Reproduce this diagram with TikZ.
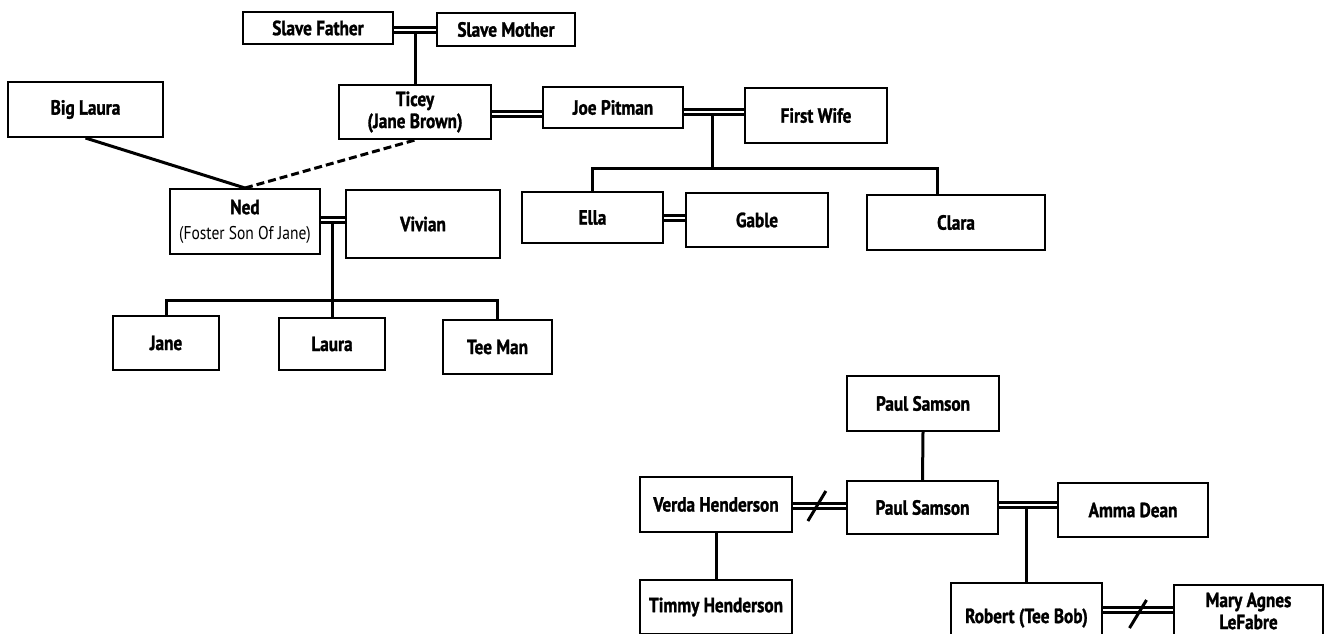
\documentclass[tikz,border=0pt]{standalone}
\usepackage{fontspec}
\setmainfont{PT Sans}[FakeStretch=0.84, BoldFeatures={FakeBold=1.3}]
\usetikzlibrary{calc}
\tikzset{
  pb/.style={draw, line width=2pt, font=\fontsize{20.5}{22}\selectfont\bfseries, align=center, inner sep=0pt},
  link/.style={line width=3pt},
  dbl/.style={double, double distance=2.2pt, line width=2.6pt},
  brk/.style={line width=3pt},
  fos/.style={line width=3pt, dash pattern=on 8pt off 4pt}
}
\begin{document}
\begin{tikzpicture}[x=1pt,y=-1pt]
\useasboundingbox (0,0) rectangle (1324,633);
\fill[white] (0,0) rectangle (1324,633);
% nodes
\node[pb, minimum width=150, minimum height=32] (sf) at (318,28) {Slave Father};
\node[pb, minimum width=138, minimum height=33] (sm) at (506,29.5) {Slave Mother};
\node[pb, minimum width=152, minimum height=54] (ticey) at (415,112) {Ticey\\(Jane Brown)};
\node[pb, minimum width=140, minimum height=41] (joe) at (613,107.5) {Joe Pitman};
\node[pb, minimum width=142, minimum height=55] (fw) at (816,115.5) {First Wife};
\node[pb, minimum width=155, minimum height=55] (bl) at (85.5,109.5) {Big Laura};
\node[pb, minimum width=150, minimum height=65] (ned) at (245,221.5) {Ned\\[3pt]{\mdseries\fontsize{18.5}{19}\selectfont (Foster Son Of Jane)}};
\node[pb, minimum width=154, minimum height=68] (viv) at (423,224) {Vivian};
\node[pb, minimum width=141, minimum height=51] (ella) at (592.5,217.5) {Ella};
\node[pb, minimum width=142, minimum height=54] (gable) at (757,220) {Gable};
\node[pb, minimum width=178, minimum height=55] (clara) at (956,222.5) {Clara};
\node[pb, minimum width=106, minimum height=54] (jane) at (166,343) {Jane};
\node[pb, minimum width=106, minimum height=52] (laura) at (332,344) {Laura};
\node[pb, minimum width=109, minimum height=54] (teeman) at (497.5,347) {Tee Man};
\node[pb, minimum width=152, minimum height=55] (ps1) at (923,403.5) {Paul Samson};
\node[pb, minimum width=151, minimum height=53] (ps2) at (922.5,507.5) {Paul Samson};
\node[pb, minimum width=152, minimum height=55] (verda) at (716,504.5) {Verda Henderson};
\node[pb, minimum width=150, minimum height=54] (amma) at (1133,510) {Amma Dean};
\node[pb, minimum width=152, minimum height=54] (timmy) at (716,607) {Timmy Henderson};
\node[pb, minimum width=151, minimum height=70] (robert) at (1026.5,618) {Robert (Tee Bob)};
\node[pb, minimum width=149, minimum height=52] (mary) at (1248.5,611) {Mary Agnes\\LeFabre};
% couples
\draw[dbl] ([yshift=-2]sf.east) -- ([yshift=-2]sf.east -| sm.west);
\draw[link] (ticey.north) -- (ticey.north |- 0,33);
\draw[dbl] ([yshift=-2]ticey.east) -- ([yshift=-2]ticey.east -| joe.west);
\draw[dbl] ([yshift=-4.5]joe.east) -- ([yshift=-4.5]joe.east -| fw.west);
\coordinate (jf) at (712,115);
\coordinate (jfbar) at (712,168);
\draw[link] (jf) -- (jfbar);
\draw[link] (ella.north) |- (jfbar) -| ([xshift=-19]clara.north);
\draw[dbl] ([yshift=-0.5]ella.east) -- ([yshift=-0.5]ella.east -| gable.west);
\draw[link] (bl.south) -- (ned.north);
\draw[fos] (ned.north) -- (ticey.south);
\draw[dbl] ([yshift=1.5]ned.east) -- ([yshift=1.5]ned.east -| viv.west);
\coordinate (nv) at (332,222);
\coordinate (nvbar) at (332,300);
\draw[link] (nv) -- (nvbar);
\draw[link] (jane.north) |- (nvbar) -| (teeman.north);
\draw[link] (laura.north) -- (laura.north |- nvbar);
\draw[link] (ps1.south) -- (ps2.north);
\draw[dbl] ([yshift=-1.5]verda.east) -- ([yshift=-1.5]verda.east -| ps2.west);
\draw[brk] ($([yshift=-1.5]verda.east)!0.45!([yshift=-1.5]verda.east -| ps2.west)$) ++(-9,15) -- ++(18,-30);
\draw[link] (verda.south) -- (timmy.north);
\draw[dbl] ([yshift=2.5]ps2.east) -- ([yshift=2.5]ps2.east -| amma.west);
\draw[link] (robert.north) -- (robert.north |- 0,508);
\draw[dbl] ([yshift=1]mary.west -| robert.east) -- ([yshift=1]mary.west);
\draw[brk] ($([yshift=1]mary.west -| robert.east)!0.5!([yshift=1]mary.west)$) ++(-8.5,18) -- ++(17,-28);
\end{tikzpicture}
\end{document}
